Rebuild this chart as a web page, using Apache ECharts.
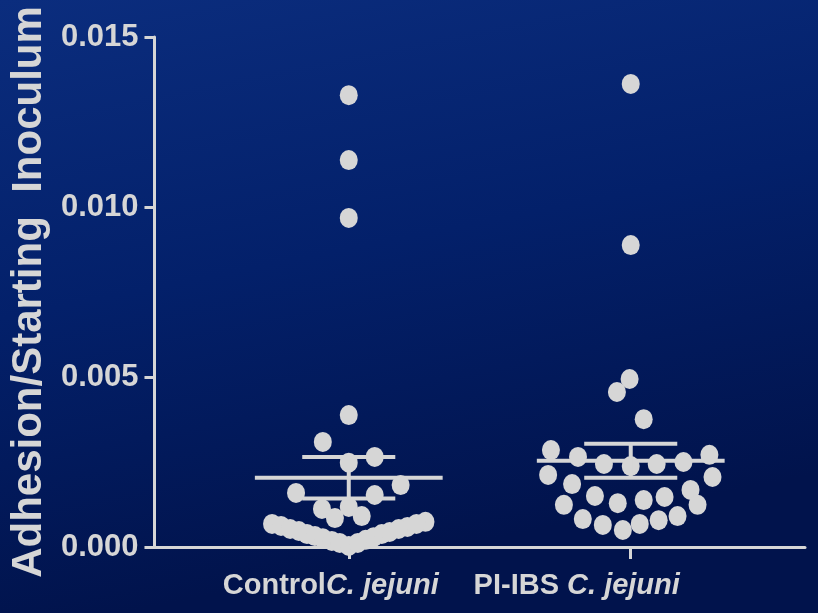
<!DOCTYPE html>
<html>
<head>
<meta charset="utf-8">
<script src="https://cdn.jsdelivr.net/npm/echarts@6/dist/echarts.min.js"></script>
<style>html,body{margin:0;padding:0;background:#011550;}#c{width:818px;height:613px;}</style>
</head>
<body>
<div id="c"></div>
<script>
// ---- Data ----
const categories = ['Control', 'PI-IBS'];
const yTicks = [0, 0.005, 0.010, 0.015];
// Control C. jejuni: values and horizontal swarm offsets (in category units)
const controlValues = [0.01329, 0.01138, 0.00968, 0.00388, 0.00309, 0.00248, 0.00265, 0.00182, 0.00159, 0.00153, 0.00112, 0.00118, 0.00091, 0.00085,
  0.00068, 0.00062, 0.00053, 0.00047, 0.00038, 0.00032, 0.00026, 0.00018, 0.00012, 0.00003,
  0.00074, 0.00068, 0.00059, 0.00053, 0.00044, 0.00038, 0.00029, 0.00021, 0.00012];
const controlOffsets = [0, 0, 0, 0, -0.092, 0, 0.092, 0.184, -0.187, 0.092, -0.095, 0, 0.046, -0.049,
  -0.272, -0.240, -0.208, -0.177, -0.148, -0.120, -0.092, -0.060, -0.032, 0,
  0.272, 0.240, 0.208, 0.177, 0.145, 0.117, 0.088, 0.060, 0.032];
// PI-IBS C. jejuni
const pibsValues = [0.01362, 0.00888, 0.00494, 0.00456, 0.00376,
  0.00285, 0.00265, 0.00244, 0.00238, 0.00244, 0.00250, 0.00271,
  0.00212, 0.00185, 0.00206, 0.00168, 0.00124,
  0.00124, 0.00150, 0.00129, 0.00138, 0.00147,
  0.00082, 0.00065, 0.00050, 0.00068, 0.00079, 0.00091];
const pibsOffsets = [0, 0, -0.004, -0.049, 0.046,
  -0.283, -0.187, -0.095, 0, 0.092, 0.187, 0.279,
  -0.293, -0.208, 0.290, 0.212, 0.237,
  -0.237, -0.127, -0.046, 0.046, 0.120,
  -0.170, -0.099, -0.028, 0.032, 0.099, 0.166];
// mean and SEM
const means = [0.00204, 0.00254];
const sems = [0.00061, 0.00050];

const fg = '#d6d6d6';
const font = '"Liberation Sans", Arial, sans-serif';

function swarm(groupIndex, vals, offs) {
  return vals.map((v, i) => [groupIndex + 1 + offs[i], v]);
}

const chart = echarts.init(document.getElementById('c'));
chart.setOption({
  backgroundColor: {
    type: 'linear', x: 0, y: 0, x2: 0.15, y2: 1,
    colorStops: [{offset: 0, color: '#0b2d7e'}, {offset: 0.5, color: '#03206a'}, {offset: 1, color: '#01134c'}]
  },
  animation: false,
  grid: {left: 152, right: 13, top: 37, bottom: 66, containLabel: false},
  xAxis: {
    type: 'value', min: 0.311, max: 2.618,
    splitLine: {show: false},
    axisLine: {show: true, onZero: false, lineStyle: {color: fg, width: 3}},
    axisTick: {show: true, length: 12, customValues: [1, 2], lineStyle: {color: fg, width: 3}},
    axisLabel: {
      show: true, customValues: [1, 2], margin: 24,
      formatter: function (v) {
        return v < 1.5 ? '{n|Control}{i1|C. jejuni}' : '{n|PI-IBS }{i2|C. jejuni}';
      },
      rich: {
        n: {fontFamily: font, fontSize: 29, fontWeight: 'bold', color: fg},
        i1: {fontFamily: font, fontSize: 29, fontWeight: 'bold', fontStyle: 'italic', color: fg, padding: [0, 36, 0, 0]},
        i2: {fontFamily: font, fontSize: 29, fontWeight: 'bold', fontStyle: 'italic', color: fg, padding: [0, 108, 0, 0]}
      }
    }
  },
  yAxis: {
    type: 'value', min: 0, max: 0.015, interval: 0.005,
    name: 'Adhesion/Starting  Inoculum',
    nameLocation: 'middle', nameGap: 103, nameRotate: 90,
    nameTextStyle: {fontFamily: font, fontSize: 42, fontWeight: 'bold', color: fg},
    splitLine: {show: false},
    axisLine: {show: true, lineStyle: {color: fg, width: 3}},
    axisTick: {show: true, length: 10, lineStyle: {color: fg, width: 3}},
    axisLabel: {
      fontFamily: font, fontSize: 31, fontWeight: 'bold', color: fg, margin: 16,
      formatter: v => v.toFixed(3)
    }
  },
  series: [
    {
      type: 'scatter', symbol: 'circle', symbolSize: [18, 20],
      itemStyle: {color: fg, opacity: 1},
      data: swarm(0, controlValues, controlOffsets).concat(swarm(1, pibsValues, pibsOffsets)),
      z: 2
    },
    {
      type: 'custom', z: 5,
      data: means.map((m, i) => [i + 1, m, sems[i]]),
      renderItem: function (params, api) {
        const x = api.value(0), m = api.value(1), s = api.value(2);
        const pm1 = api.coord([x - 0.333, m]), pm2 = api.coord([x + 0.333, m]);
        const pu1 = api.coord([x - 0.165, m + s]), pu2 = api.coord([x + 0.165, m + s]);
        const pl1 = api.coord([x - 0.165, m - s]), pl2 = api.coord([x + 0.165, m - s]);
        const pc1 = api.coord([x, m + s]), pc2 = api.coord([x, m - s]);
        const st = {stroke: fg, lineWidth: 4};
        return {
          type: 'group', children: [
            {type: 'line', shape: {x1: pm1[0], y1: pm1[1], x2: pm2[0], y2: pm2[1]}, style: st},
            {type: 'line', shape: {x1: pu1[0], y1: pu1[1], x2: pu2[0], y2: pu2[1]}, style: st},
            {type: 'line', shape: {x1: pl1[0], y1: pl1[1], x2: pl2[0], y2: pl2[1]}, style: st},
            {type: 'line', shape: {x1: pc1[0], y1: pc1[1], x2: pc2[0], y2: pc2[1]}, style: st}
          ]
        };
      }
    }
  ]
});
</script>
</body>
</html>
